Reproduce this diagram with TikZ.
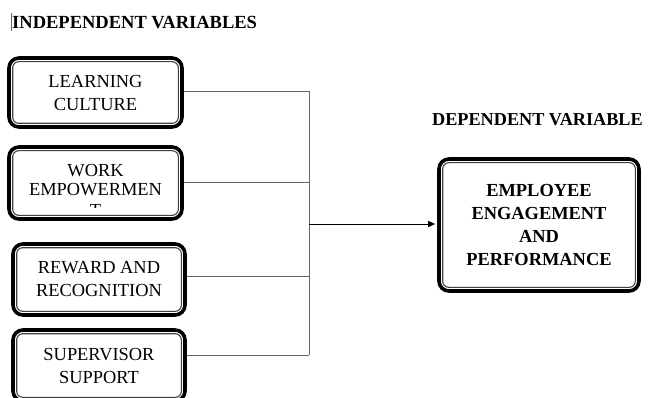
\documentclass[tikz,border=0pt]{standalone}
\usepackage{fontspec}
\setmainfont{Liberation Serif}
\usetikzlibrary{arrows.meta,calc}
\begin{document}
\begin{tikzpicture}[x=1pt,y=1pt,
  ivbox/.style={draw, line width=3.6pt, rounded corners=10pt, inner sep=0pt,
    align=center, font=\fontsize{18.4}{23}\selectfont},
  innerline/.style={draw=black!75, line width=1.1pt, rounded corners=6pt},
  conn/.style={draw=black!60, line width=0.9pt},
  head/.style={font=\fontsize{18.5}{22}\selectfont\bfseries, inner sep=0pt, anchor=base west}]
\useasboundingbox (0,0) rectangle (648,397);
% headers
\node[head] (h1) at (12,368) {INDEPENDENT VARIABLES};
\node[head, font=\fontsize{18.2}{22}\selectfont\bfseries] (h2) at (432,271) {DEPENDENT VARIABLE};
\draw[black!60, line width=1pt] (11,384) -- (11,366);
% boxes
\node[ivbox, minimum width=173pt, minimum height=69pt] (b1) at (95.5,304.5) {LEARNING\\CULTURE};
\node[ivbox, minimum width=173pt, minimum height=72pt] (b2) at (95.5,214) {};
\node[ivbox, minimum width=172pt, minimum height=71pt] (b3) at (99,117.5) {REWARD AND\\RECOGNITION};
\node[ivbox, minimum width=172pt, minimum height=71pt] (b4) at (99,31.5) {SUPERVISOR\\SUPPORT};
\node[ivbox, minimum width=200pt, minimum height=132pt, font=\fontsize{18.4}{23}\selectfont\bfseries] (b5) at (539,172) {EMPLOYEE\\ENGAGEMENT\\AND\\PERFORMANCE};
\foreach \b in {b1,b2,b3,b4,b5}{
  \draw[innerline] ([xshift=5.5pt,yshift=-5.5pt]\b.north west) rectangle ([xshift=-5.5pt,yshift=5.5pt]\b.south east);
}
% clipped text of box 2
\begin{scope}
\clip (20,189.5) rectangle (175,240);
\node[anchor=base, inner sep=0pt, font=\fontsize{18.4}{23}\selectfont] (t1) at (95.5,221) {WORK};
\node[anchor=base, inner sep=0pt, font=\fontsize{18.4}{23}\selectfont] (t2) at (95.5,201) {EMPOWERMEN};
\node[anchor=base, inner sep=0pt, font=\fontsize{18.4}{23}\selectfont] (t3) at (95.5,181) {T};
\end{scope}
% connectors
\coordinate (j1) at (309,306);
\coordinate (j2) at (309,215);
\coordinate (j3) at (309,121);
\coordinate (j4) at (309,42);
\coordinate (mid) at (309,173);
\draw[conn] (b1.east |- j1) -- (j1);
\draw[conn] (b2.east |- j2) -- (j2);
\draw[conn] (b3.east |- j3) -- (j3);
\draw[conn] (b4.east |- j4) -- (j4);
\draw[conn] (j1) -- (j4);
\draw[line width=0.9pt, -{Triangle[length=7pt,width=6pt]}, shorten >=2pt] (mid) -- (b5.west |- mid);
\end{tikzpicture}
\end{document}
